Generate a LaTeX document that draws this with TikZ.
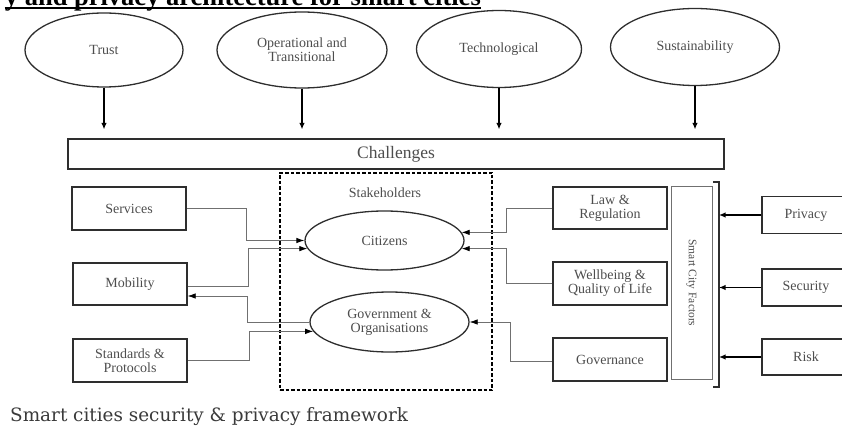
\documentclass[tikz,border=0pt]{standalone}
\usepackage{fontspec}
\setmainfont{Liberation Serif}
\newfontfamily\capfont{DejaVu Serif}
\usetikzlibrary{arrows.meta,positioning,shapes.geometric,calc}
\definecolor{ink}{HTML}{4D4D4D}
\definecolor{edge}{HTML}{2E2E2E}
\definecolor{wire}{HTML}{707070}
\definecolor{caption}{HTML}{3A3A3A}
\tikzset{
  base/.style={font=\fontsize{14}{14}\selectfont,align=center,text=ink,draw=edge,line width=1.3pt,inner sep=2pt},
  challenge/.style={base,ellipse,minimum width=164pt,minimum height=75pt},
  actor/.style={base,ellipse,minimum width=159pt,minimum height=60pt},
  factor/.style={base,minimum width=114pt,minimum height=42pt},
  input/.style={base,minimum width=88pt,minimum height=37pt},
  bar/.style={base,line width=1.1pt,minimum width=656pt,minimum height=30pt,font=\fontsize{17.5}{18}\selectfont},
  panel/.style={base,draw=wire,line width=1pt,font=\fontsize{11.5}{12}\selectfont},
  group/.style={draw=black,line width=1.3pt,dash pattern=on 3.5pt off 2pt,minimum width=212pt,minimum height=217pt},
  link/.style={-{Latex[length=8pt,width=5.5pt,color=black]},draw=wire,line width=0.8pt},
  flow/.style={-{Latex[length=6.5pt,width=5.5pt]},draw=black,line width=1.4pt,shorten >=9pt},
  feed/.style={-{Latex[length=6.5pt,width=5.5pt]},draw=black,line width=1.7pt}
}
\begin{document}
\begin{tikzpicture}[x=1pt,y=-1pt]
\clip (0,0) rectangle (842,430);
% title, cut at the top edge
\node[anchor=base east,inner sep=0,font=\fontsize{26.5}{28}\selectfont\bfseries] (title) at (481,6) {y and privacy architecture for smart cities};
\draw[line width=1.8pt] ([yshift=-2pt]title.base west) -- ([yshift=-2pt]title.base east);
% challenge areas
\node[challenge,minimum width=158pt,minimum height=74pt] (trust) at (104,50) {Trust};
\node[challenge,minimum width=170pt,minimum height=76pt] (oper) at (302,50) {Operational and\\Transitional};
\node[challenge,minimum width=165pt,minimum height=77pt] (tech) at (499,49) {Technological};
\node[challenge,minimum width=169pt,minimum height=77pt] (sust) at (695,47) {Sustainability};
\node[bar] (chal) at (396,154) {Challenges};
\foreach \c in {trust,oper,tech,sust}
  \draw[flow] (\c.south) -- (\c.south |- chal.north);
% stakeholders
\node[group] (stake) at (386,281.5) {};
\node[font=\fontsize{14}{14}\selectfont,text=ink] (stakelbl) at (385,193) {Stakeholders};
\node[actor,minimum height=59pt] (cit) at (384.5,240.5) {Citizens};
\node[actor] (govt) at (389.5,322) {Government \&\\Organisations};
% left factors
\node[factor,minimum height=43pt] (serv) at (129,208.5) {Services};
\node[factor] (mob) at (130,284) {Mobility};
\node[factor,minimum height=43pt] (std) at (130,360.5) {Standards \&\\Protocols};
% right factors
\node[factor] (law) at (610,208) {Law \&\\Regulation};
\node[factor,minimum height=43pt] (well) at (610,283.5) {Wellbeing \&\\Quality of Life};
\node[factor,minimum height=43pt] (gvn) at (610,359.5) {Governance};
\node[panel,rotate=-90,minimum width=192pt,minimum height=41pt] (scf) at (691.5,283) {Smart City Factors};
\draw[line width=1.5pt,draw=edge] (713,182) -- (719,182) -- (719,387) -- (713,387);
\coordinate (brk) at (719,283);
\node[input] (priv) at (806,215) {Privacy};
\node[input] (sec) at (806,287.5) {Security};
\node[input,minimum height=36pt] (risk) at (806,357) {Risk};
\foreach \f in {priv,sec,risk}
  \draw[feed] (\f.west) -- (\f.west -| brk);
% links to stakeholders
\draw[link] (serv.east) -- ++(60,0) |- (cit.west);
\draw[link] ([yshift=-2pt]mob.east) -- ++(61,0) |- (cit.186);
\draw[link] (govt.west) -- ++(-62,0) |- ([yshift=-12pt]mob.east);
\draw[link] (std.east) -- ++(62,0) |- (govt.187);
\draw[link] (law.west) -- ++(-46,0) |- (cit.6);
\draw[link] (well.west) -- ++(-46,0) |- (cit.-6);
\draw[link] ([yshift=-1.5pt]gvn.west) -- ++(-42,0) |- (govt.east);
% caption
\node[anchor=base west,inner sep=0,font=\capfont\fontsize{18.4}{20}\selectfont,text=caption] (cap) at (10,421) {Smart cities security \& privacy framework};
\end{tikzpicture}
\end{document}
